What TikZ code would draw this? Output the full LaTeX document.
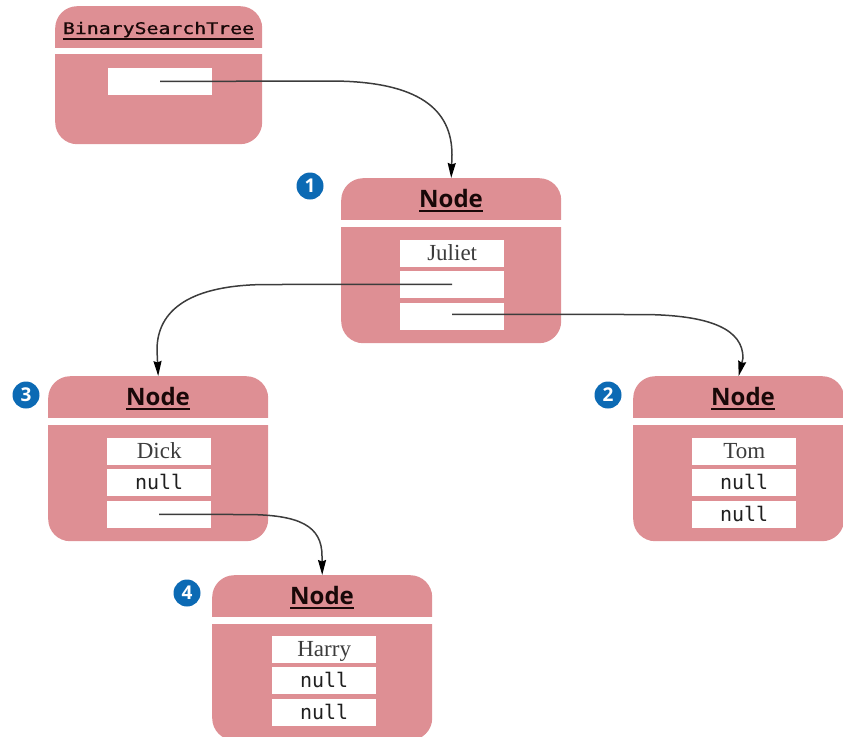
\documentclass[tikz,border=0pt]{standalone}
\usepackage{fontspec}
\usepackage{graphicx}
\setmainfont{Liberation Serif}
\newfontfamily\hdrfont{Open Sans}
\newfontfamily\mymono{DejaVu Sans Mono}
\newfontfamily\bstfont{DejaVu Sans Mono}[FakeBold=0.7]
\usetikzlibrary{arrows.meta}
\definecolor{boxpink}{RGB}{222,143,148}
\definecolor{badgeblue}{RGB}{12,106,180}
\definecolor{linegray}{RGB}{60,60,60}
\definecolor{namegray}{RGB}{60,60,60}
\definecolor{titlec}{RGB}{25,8,8}
\newcommand\myul[2][5pt]{\setbox0=\hbox{#2}\rlap{\rule[-#1]{\wd0}{1.8pt}}\box0}
\tikzset{
  objbox/.style={fill=boxpink, rounded corners=22pt, draw=none, inner sep=0pt,
    anchor=north west, minimum width=220pt, minimum height=165pt},
  field/.style={fill=white, inner xsep=0pt, inner ysep=0pt, minimum width=104pt,
    minimum height=26.5pt, text height=20pt, text depth=6.5pt, anchor=north west},
  namef/.style={field, font=\fontsize{23pt}{26pt}\selectfont, text=namegray},
  nullf/.style={field, font=\mymono\fontsize{20pt}{24pt}\selectfont, text=black!88},
  title/.style={font=\hdrfont\bfseries\fontsize{24pt}{28pt}\selectfont, text=titlec,
    anchor=base, inner sep=0pt},
  badge/.style={circle, fill=badgeblue, text=white, minimum size=27pt, inner sep=0pt,
    font=\hdrfont\bfseries\fontsize{19pt}{20pt}\selectfont},
  conn/.style={draw=linegray, line width=1.5pt,
    -{Stealth[length=15pt,width=8pt,inset=1.5pt,color=black]}},
  band/.style={fill=white}
}
\begin{document}
\begin{tikzpicture}[x=1pt,y=-1pt]
\useasboundingbox (0,0) rectangle (843,736);

% BinarySearchTree object
\node[objbox, minimum width=207pt, minimum height=138pt] (bst) at (55,6) {};
\fill[band] ([xshift=-1pt,yshift=-42pt]bst.north west) rectangle ([xshift=1pt,yshift=-48pt]bst.north east);
\node[title, font=\bstfont\fontsize{16pt}{19pt}\selectfont] (bstt) at ([xshift=103.5pt,yshift=-28pt]bst.north west) {\myul[6pt]{\scalebox{1.24}[1]{BinarySearchTree}}};
\node[field, minimum height=26pt] (bf) at ([xshift=53pt,yshift=-62pt]bst.north west) {};

% Node objects
\node[objbox] (n1) at (341,178) {};
\node[objbox] (n3) at (48,376) {};
\node[objbox, minimum width=211pt] (n2) at (633,376) {};
\node[objbox] (n4) at (212,575) {};
\foreach \n in {n1,n2,n3,n4}{
  \fill[band] ([xshift=-1pt,yshift=-42pt]\n.north west) rectangle ([xshift=1pt,yshift=-49pt]\n.north east);
}
\node[title] (n1t) at ([xshift=110pt,yshift=-29pt]n1.north west) {\myul{Node}};
\node[title] (n2t) at ([xshift=110pt,yshift=-29pt]n2.north west) {\myul{Node}};
\node[title] (n3t) at ([xshift=110pt,yshift=-29pt]n3.north west) {\myul{Node}};
\node[title] (n4t) at ([xshift=110pt,yshift=-29pt]n4.north west) {\myul{Node}};

% fields
\node[namef] (j1) at ([xshift=59pt,yshift=-62pt]n1.north west) {Juliet};
\node[field] (j2) at ([xshift=59pt,yshift=-93pt]n1.north west) {};
\node[field] (j3) at ([xshift=59pt,yshift=-125pt]n1.north west) {};

\node[namef] (t1) at ([xshift=59pt,yshift=-62pt]n2.north west) {Tom};
\node[nullf] (t2) at ([xshift=59pt,yshift=-93pt]n2.north west) {null};
\node[nullf] (t3) at ([xshift=59pt,yshift=-125pt]n2.north west) {null};

\node[namef] (d1) at ([xshift=59pt,yshift=-62pt]n3.north west) {Dick};
\node[nullf] (d2) at ([xshift=59pt,yshift=-93pt]n3.north west) {null};
\node[field] (d3) at ([xshift=59pt,yshift=-125pt]n3.north west) {};

\node[namef] (h1) at ([xshift=60pt,yshift=-61pt]n4.north west) {Harry};
\node[nullf] (h2) at ([xshift=60pt,yshift=-92pt]n4.north west) {null};
\node[nullf] (h3) at ([xshift=60pt,yshift=-124pt]n4.north west) {null};

% badges
\node[badge] (b1) at (310,186) {1};
\node[badge] (b2) at (608,395) {2};
\node[badge] (b3) at (26,395) {3};
\node[badge] (b4) at (187,593) {4};

% connectors
\draw[conn] (bf.center) -- (330,81) .. controls (420,81) and (452,110) .. (452,155) -- (n1.north);
\draw[conn] (j2.center) -- (268,284.5) .. controls (190,284.5) and (157,310) .. (157,350) -- (n3.north);
\draw[conn] ([yshift=2pt]j3.center) -- (640,314.5) .. controls (712,314.5) and (743,330) .. (743,358) -- (n2.north);
\draw[conn] (d3.center) -- (245,514.5) .. controls (300,514.5) and (322,526) .. (322,556) -- (n4.north);
\end{tikzpicture}
\end{document}
